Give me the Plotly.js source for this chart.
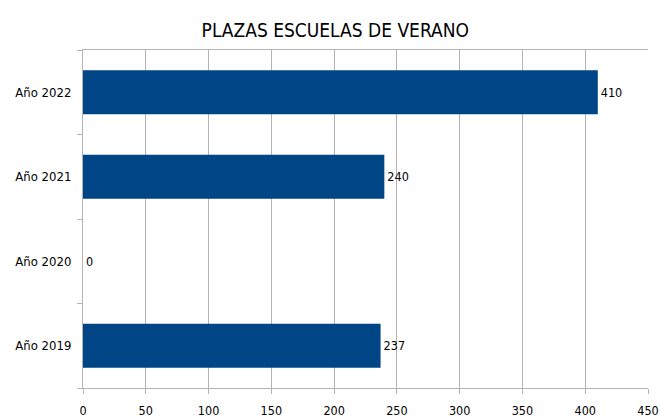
<!DOCTYPE html>
<html><head><meta charset="utf-8">
<script src="https://cdn.plot.ly/plotly-3.0.1.min.js"></script>
<style>body{margin:0;padding:0;background:#fff}#chart{width:660px;height:417px}</style>
</head><body><div id="chart"></div>
<script>
const categories = ["Año 2019", "Año 2020", "Año 2021", "Año 2022"];
const values = [237, 0, 240, 410];
const xTicks = [0, 50, 100, 150, 200, 250, 300, 350, 400, 450];
const chartTitle = "PLAZAS ESCUELAS DE VERANO";

const fontFam = "'DejaVu Sans Condensed', 'Liberation Sans Narrow', sans-serif";

Plotly.newPlot('chart', [{
  type: 'bar',
  orientation: 'h',
  y: categories,
  x: values,
  marker: {color: '#004586'},
  width: 0.52,
  text: values.map(String),
  textposition: 'outside',
  cliponaxis: false,
  textfont: {family: fontFam, size: 12.5, color: '#000'},
  hoverinfo: 'none'
}], {
  width: 660, height: 417,
  margin: {l: 83, r: 12, t: 50, b: 29},
  paper_bgcolor: '#fff', plot_bgcolor: '#fff',
  showlegend: false,
  title: {text: chartTitle, x: 0.508, xanchor: 'center', y: 0.928, yanchor: 'middle',
          font: {family: fontFam, size: 19, color: '#000'}},
  xaxis: {
    range: [0, 450], tickvals: xTicks, ticktext: xTicks.map(String),
    showgrid: true, gridcolor: '#b3b3b3', gridwidth: 1,
    showline: true, linecolor: '#b3b3b3', linewidth: 1, mirror: true,
    ticks: 'outside', ticklen: 5, tickcolor: '#b3b3b3',
    ticklabelstandoff: 6,
    zeroline: false, fixedrange: true,
    tickfont: {family: fontFam, size: 12.5, color: '#000'}
  },
  yaxis: {
    type: 'category', categoryorder: 'array', categoryarray: categories,
    range: [-0.5, 3.5],
    showgrid: false, showline: true, linecolor: '#b3b3b3', linewidth: 1,
    ticks: 'outside', tickson: 'boundaries', ticklen: 5, tickcolor: '#b3b3b3',
    ticklabelstandoff: 8,
    zeroline: false, fixedrange: true,
    tickfont: {family: fontFam, size: 13, color: '#000'}
  }
}, {staticPlot: true, displayModeBar: false});
</script></body></html>
